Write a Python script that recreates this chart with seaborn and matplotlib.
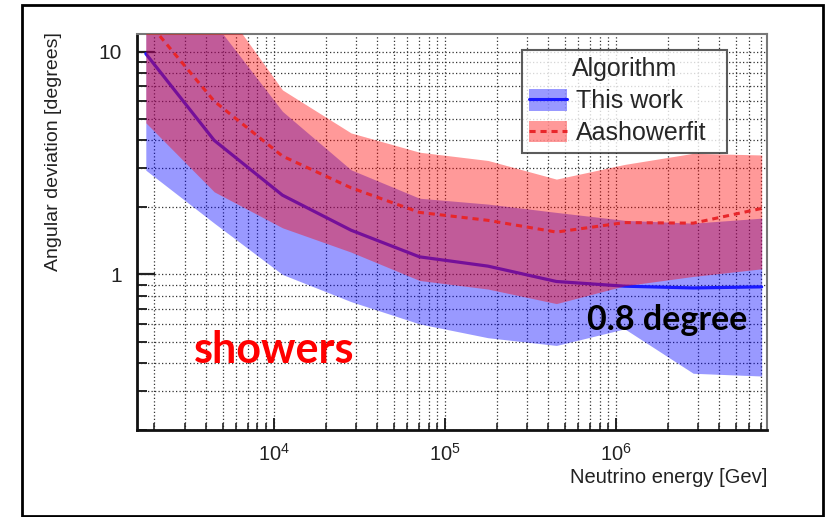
import numpy as np
import pandas as pd
import matplotlib
matplotlib.use("Agg")
import matplotlib.pyplot as plt
import matplotlib.ticker as mticker
from matplotlib.patches import Patch, Rectangle
from matplotlib.lines import Line2D
import seaborn as sns

# Neutrino energy bin centres [GeV]
energy = [1780, 4470, 11200, 28200, 70800, 178000, 447000, 1120000, 2820000, 7080000]

# Angular deviation [degrees] for the new reconstruction
this_work_median = [9.8, 4.0, 2.27, 1.58, 1.2, 1.09, 0.93, 0.886, 0.87, 0.88]
this_work_lower = [2.94, 1.70, 1.0, 0.755, 0.60, 0.52, 0.48, 0.57, 0.36, 0.35]
this_work_upper = [30.0, 13.5, 5.4, 2.95, 2.2, 2.07, 1.9, 1.75, 1.7, 1.79]

# Angular deviation [degrees] for Aashowerfit
aashowerfit_median = [14.0, 6.0, 3.4, 2.45, 1.9, 1.75, 1.55, 1.71, 1.70, 1.98]
aashowerfit_lower = [4.8, 2.35, 1.62, 1.26, 0.94, 0.86, 0.74, 0.89, 0.98, 1.06]
aashowerfit_upper = [45.0, 18.0, 6.74, 4.32, 3.54, 3.25, 2.68, 3.12, 3.5, 3.44]

algorithms = ["This work", "Aashowerfit"]

df = pd.DataFrame({
    "energy": energy * 2,
    "median": this_work_median + aashowerfit_median,
    "lower": this_work_lower + aashowerfit_lower,
    "upper": this_work_upper + aashowerfit_upper,
    "Algorithm": [algorithms[0]] * len(energy) + [algorithms[1]] * len(energy),
})

sns.set_style("white")
plt.rcParams["font.family"] = ["Liberation Sans", "DejaVu Sans"]
plt.rcParams["mathtext.default"] = "regular"

fig = plt.figure(figsize=(8.3, 5.17), dpi=100)
ax = fig.add_axes([0.165, 0.168, 0.759, 0.766])

band_colors = {"This work": "#0000ff", "Aashowerfit": "#ff0000"}
line_colors = {"This work": "#1a1aff", "Aashowerfit": "#e8262a"}

# blue band and line first, the red band is laid over them
tw = df[df["Algorithm"] == "This work"]
ax.fill_between(tw["energy"], tw["lower"], tw["upper"],
                color=band_colors["This work"], alpha=0.4, lw=0, zorder=2)
sns.lineplot(data=tw, x="energy", y="median", ax=ax, color=line_colors["This work"],
             lw=2.3, zorder=3, legend=False)

af = df[df["Algorithm"] == "Aashowerfit"]
ax.fill_between(af["energy"], af["lower"], af["upper"],
                color=band_colors["Aashowerfit"], alpha=0.4, lw=0, zorder=4)
sns.lineplot(data=af, x="energy", y="median", ax=ax, color=line_colors["Aashowerfit"],
             lw=2.2, zorder=5, legend=False)
ax.lines[-1].set_dashes((2.0, 1.6))

ax.set_xscale("log")
ax.set_yscale("log")
ax.set_xlim(1580, 7.6e6)
ax.set_ylim(0.2, 12)

ax.yaxis.set_major_locator(mticker.LogLocator(base=10))
ax.yaxis.set_minor_locator(mticker.LogLocator(base=10, subs=np.arange(2, 10)))
ax.yaxis.set_major_formatter(mticker.FuncFormatter(lambda v, p: f"{v:g}"))
ax.yaxis.set_minor_formatter(mticker.NullFormatter())
ax.xaxis.set_major_locator(mticker.LogLocator(base=10))
ax.xaxis.set_minor_locator(mticker.LogLocator(base=10, subs=np.arange(2, 10)))
ax.xaxis.set_minor_formatter(mticker.NullFormatter())

ax.grid(True, which="both", color="#333333", linestyle=(0, (1, 1.8)), lw=0.9, zorder=1)

ax.tick_params(axis="y", which="major", direction="in", length=13, width=1.6,
               labelsize=15, pad=11, colors="#222222", left=True)
ax.tick_params(axis="y", which="minor", direction="in", length=7, width=1.4, left=True)
ax.tick_params(axis="x", which="major", direction="in", length=9, width=1.4,
               labelsize=14.5, pad=9, colors="#222222", bottom=True)
ax.tick_params(axis="x", which="minor", direction="in", length=5, width=1.2, bottom=True)

for side in ["left", "bottom"]:
    ax.spines[side].set_color("#111111")
    ax.spines[side].set_linewidth(2.0)
for side in ["top", "right"]:
    ax.spines[side].set_color("#777777")
    ax.spines[side].set_linewidth(1.5)

ax.set_ylabel("Angular deviation [degrees]", fontsize=14, color="#222222")
ax.yaxis.set_label_coords(-0.119, 0.703)
ax.set_xlabel("Neutrino energy [Gev]", fontsize=14.5, color="#222222", ha="right")
ax.xaxis.set_label_coords(1.0, -0.095)

handles = [
    (Patch(facecolor=band_colors[a], alpha=0.4, lw=0),
     Line2D([], [], color=line_colors[a], lw=2.2,
            dashes=(2.0, 1.6) if a == "Aashowerfit" else (None, None)))
    for a in algorithms
]
leg = ax.legend(handles, algorithms, title="Algorithm", loc="upper left",
                bbox_to_anchor=(0.611, 0.70, 0.325, 0.26), mode="expand",
                borderaxespad=0.0, fontsize=18, title_fontsize=18,
                frameon=True, fancybox=False, edgecolor="#333333",
                handlelength=1.5, handleheight=0.95, handletextpad=0.35,
                labelspacing=0.3, borderpad=0.3)
leg.get_frame().set_linewidth(1.5)
leg.set_zorder(10)

ax.text(0.218, 0.169, "showers", transform=ax.transAxes, ha="center", va="baseline",
        color="#ff0000", fontsize=31, fontweight="bold", family="Lato", zorder=11)
ax.text(0.841, 0.2525, "0.8 degree", transform=ax.transAxes, ha="center", va="baseline",
        color="black", fontsize=24.5, fontweight="bold", family="Lato", zorder=11)

fig.patches.append(Rectangle((0.0265, 0.002), 0.965, 0.988, transform=fig.transFigure,
                             fill=False, edgecolor="black", lw=2.0))

fig.savefig("out.png", dpi=100)
